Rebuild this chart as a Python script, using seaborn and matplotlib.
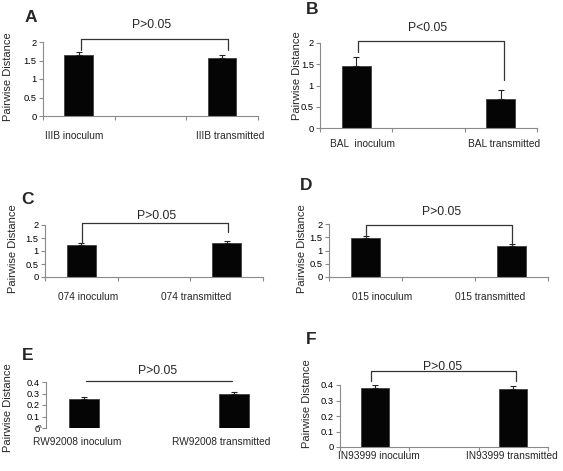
import matplotlib
matplotlib.use("Agg")
import matplotlib.pyplot as plt
import seaborn as sns
import pandas as pd
from matplotlib.patches import Rectangle

sns.set_style("white")
plt.rcParams['font.family'] = ['Liberation Sans', 'DejaVu Sans']

W, H = 563, 471

# ---- data ----
letters = ["A", "B", "C", "D", "E", "F"]
inoc_labels = ["IIIB inoculum", "BAL  inoculum", "074 inoculum", "015 inoculum",
               "RW92008 inoculum", "IN93999 inoculum"]
trans_labels = ["IIIB transmitted", "BAL transmitted", "074 transmitted", "015 transmitted",
                "RW92008 transmitted", "IN93999 transmitted"]
inoc_vals = [1.64, 1.47, 1.24, 1.47, 0.253, 0.378]
inoc_err = [0.10, 0.21, 0.05, 0.08, 0.014, 0.02]
trans_vals = [1.56, 0.68, 1.29, 1.16, 0.297, 0.376]
trans_err = [0.08, 0.21, 0.09, 0.07, 0.014, 0.02]
pvals = ["P>0.05", "P<0.05", "P>0.05", "P>0.05", "P>0.05", "P>0.05"]
yticks_big = [0, 0.5, 1, 1.5, 2]
yticklabels_big = ["0", "0.5", "1", "1.5", "2"]
yticks_small = [0, 0.1, 0.2, 0.3, 0.4]
yticklabels_small = ["0", "0.1", "0.2", "0.3", "0.4"]

# ---- layout (pixels) ----
axes_px = [  # left, bottom, width, height
    (43, 116, 215, 74),
    (320, 128, 217, 85),
    (45, 277, 218, 52),
    (329, 277, 219, 53),
    (46, 428, 225, 46),
    (340, 447, 208, 62),
]
ylims = [(0, 2), (0, 2), (0, 2), (0, 2), (0.017, 0.4), (0, 0.4)]
# bracket: x0, x1, top, left leg end, right leg end
brackets = [
    (0.03, 2.08, 2.08, 1.78, 1.78),
    (0.03, 2.04, 2.05, 1.79, 1.13),
    (0.01, 2.02, 2.08, 1.31, 1.73),
    (0.01, 2.00, 1.96, 1.50, 1.20),
    (0.03, 1.98, 0.41, 0.41, 0.41),
    (-0.05, 2.04, 0.49, 0.425, 0.425),
]
ptext_px = [(152, 25), (428, 28), (157, 216), (442, 212), (158, 371), (443, 367)]
cat_px = [((74, 230), 136), ((362, 504), 144), ((88, 196), 297), ((382, 490), 297),
          ((77, 221), 442), ((379, 512), 456)]
ylab_px = [(8, 77), (297, 76), (13, 249), (302, 249), (8, 408), (307, 404)]
letter_px = [(31, 18), (312, 10), (27, 199), (306, 186), (28, 355), (311, 340)]

fig = plt.figure(figsize=(W / 100, H / 100), dpi=100)
fig.patch.set_facecolor("white")

def fx(x):
    return x / W

def fy(y):
    return 1 - y / H

spine_col = "#8a8a8a"
for i in range(6):
    l, b, w, h = axes_px[i]
    ax = fig.add_axes([fx(l), fy(b), w / W, h / H])
    df = pd.DataFrame({"group": [inoc_labels[i], trans_labels[i]],
                       "value": [inoc_vals[i], trans_vals[i]]})
    sns.barplot(data=df, x="group", y="value", order=[inoc_labels[i], " ", trans_labels[i]],
                color="#050505", edgecolor="#404040", linewidth=0.6, width=0.4,
                errorbar=None, saturation=1, ax=ax)
    ax.errorbar([0, 2], [inoc_vals[i], trans_vals[i]],
                yerr=[[0, 0], [inoc_err[i], trans_err[i]]],
                fmt="none", ecolor="#222222", elinewidth=0.8, capsize=2, capthick=0.8)
    ax.set_xlim(-0.5, 2.5)
    ax.set_ylim(*ylims[i])
    ax.set_xlabel("")
    ax.set_ylabel("")
    small = i >= 4
    ax.set_yticks(yticks_small if small else yticks_big)
    ax.set_yticklabels(yticklabels_small if small else yticklabels_big)
    ax.set_xticks([-0.5, 0.5, 1.5, 2.5])
    ax.set_xticklabels([])
    for s in ["top", "right"]:
        ax.spines[s].set_visible(False)
    for s in ["left", "bottom"]:
        ax.spines[s].set_color(spine_col)
        ax.spines[s].set_linewidth(0.8)
    ax.tick_params(axis="both", direction="out", length=3, width=0.8, color=spine_col,
                   labelsize=6.7, pad=1.5, labelcolor="black")
    ax.tick_params(axis="y", left=True)
    ax.tick_params(axis="x", bottom=True)
    if i == 4:
        ax.spines["bottom"].set_visible(False)
        ax.tick_params(axis="x", bottom=False)
        # partially clipped zero label (only its top shows above the cut)
        t = fig.text(fx(l - 4.5), fy(424.5), "0", ha="right", va="top", fontsize=6.0)
        clip = Rectangle((0, fy(428)), 1, 1, transform=fig.transFigure, visible=False)
        fig.add_artist(clip)
        t.set_clip_path(clip)
    ax.patch.set_alpha(0)

    # bracket
    x0, x1, top, ll, rl = brackets[i]
    bc = "#333333"
    if i == 4:
        ax.plot([x0, x1], [top, top], color=bc, lw=0.9, clip_on=False)
    else:
        ax.plot([x0, x0, x1, x1], [ll, top, top, rl], color=bc, lw=0.9, clip_on=False)

    # text
    px, py = ptext_px[i]
    fig.text(fx(px), fy(py), pvals[i], ha="center", va="center", fontsize=8.8)
    (c1, c2), cy = cat_px[i]
    fig.text(fx(c1), fy(cy), inoc_labels[i], ha="center", va="center", fontsize=7.3)
    fig.text(fx(c2), fy(cy), trans_labels[i], ha="center", va="center", fontsize=7.3)
    yx, yy = ylab_px[i]
    fig.text(fx(yx), fy(yy), "Pairwise Distance", rotation=90, ha="center", va="center",
             fontsize=8)
    lx, ly = letter_px[i]
    fig.text(fx(lx), fy(ly), letters[i], ha="center", va="center", fontsize=12.5,
             fontweight="bold")

fig.savefig("out.png", dpi=100, facecolor="white")
